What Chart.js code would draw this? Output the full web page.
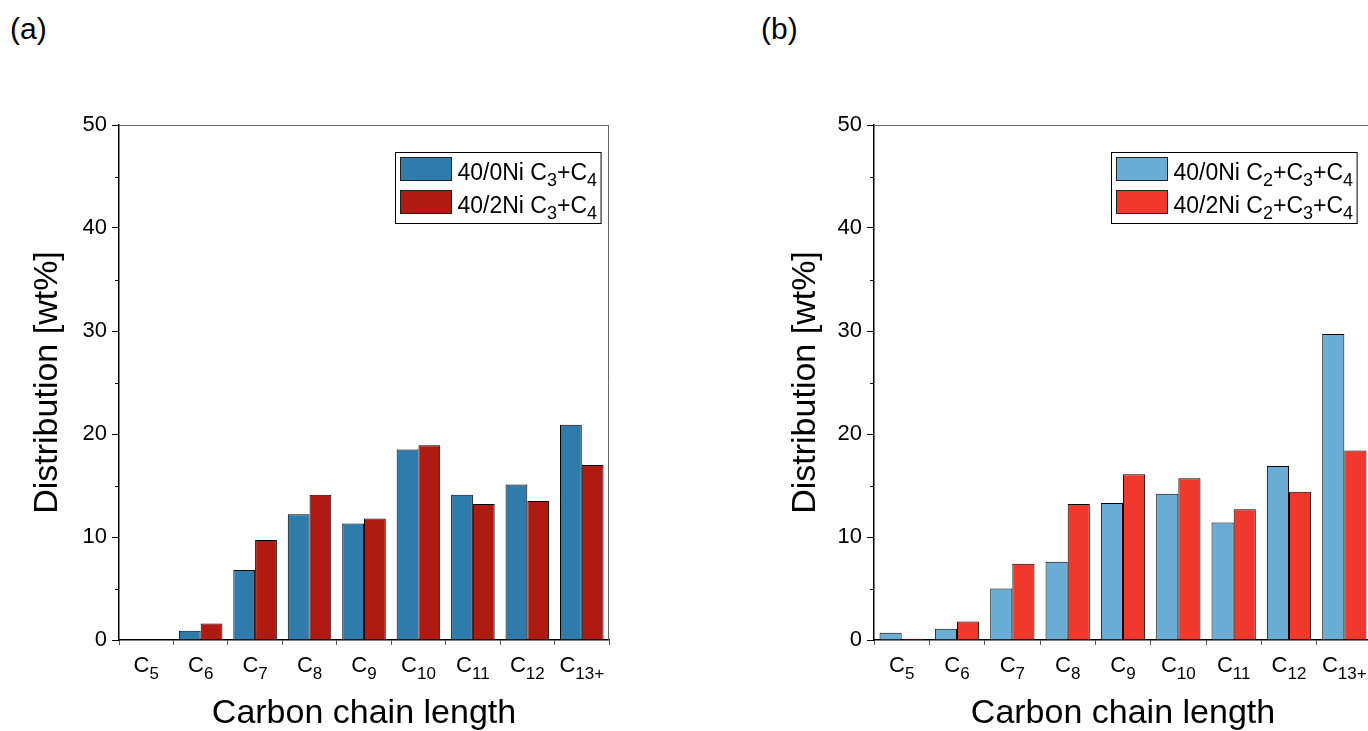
<!DOCTYPE html>
<html>
<head>
<meta charset="utf-8">
<script src="https://cdn.jsdelivr.net/npm/chart.js@4.4.0/dist/chart.umd.min.js"></script>
<style>
  html, body { margin: 0; padding: 0; background: #fff; overflow: hidden; width: 1368px; height: 731px; }
  .panel { position: absolute; top: 0; height: 731px; }
  .tag { position: absolute; top: 13px; font: 30px 'Liberation Sans', Arial, sans-serif; color: #000; line-height: 32px; }
</style>
</head>
<body>
<div class="tag" style="left:10px">(a)</div>
<div class="tag" style="left:761px">(b)</div>
<div class="panel" style="left:0;width:684px"><canvas id="chartA"></canvas></div>
<div class="panel" style="left:684px;width:700px"><canvas id="chartB"></canvas></div>
<script>
// categories, _{...} marks a subscript
const categories = ['C_{5}', 'C_{6}', 'C_{7}', 'C_{8}', 'C_{9}', 'C_{10}', 'C_{11}', 'C_{12}', 'C_{13+}'];

// panel (a)
const namesA = ['40/0Ni C_{3}+C_{4}', '40/2Ni C_{3}+C_{4}'];
const a0Ni = [0.05, 0.9, 6.8, 12.2, 11.3, 18.5, 14.1, 15.1, 20.9];
const a2Ni = [0, 1.6, 9.7, 14.1, 11.8, 18.9, 13.2, 13.5, 17.0];

// panel (b)
const namesB = ['40/0Ni C_{2}+C_{3}+C_{4}', '40/2Ni C_{2}+C_{3}+C_{4}'];
const b0Ni = [0.7, 1.1, 5.0, 7.6, 13.3, 14.2, 11.4, 16.9, 29.7];
const b2Ni = [0.13, 1.8, 7.4, 13.2, 16.1, 15.7, 12.7, 14.4, 18.4];

const yMax = 50;
const yStep = 10;

const FONT = "'Liberation Sans', Arial, sans-serif";

function splitRich(s) {
  const out = [];
  const re = /_\{([^}]*)\}/g;
  let last = 0, m;
  while ((m = re.exec(s))) {
    if (m.index > last) out.push({ t: s.slice(last, m.index), sub: false });
    out.push({ t: m[1], sub: true });
    last = re.lastIndex;
  }
  if (last < s.length) out.push({ t: s.slice(last), sub: false });
  return out;
}

// draws text with subscripts, y is the baseline
function drawRich(ctx, s, x, y, size, align) {
  const ps = splitRich(s);
  const subSize = Math.round(size * 0.77);
  let w = 0;
  ps.forEach(p => {
    ctx.font = (p.sub ? subSize : size) + 'px ' + FONT;
    p.w = ctx.measureText(p.t).width;
    w += p.w;
  });
  let cx = align === 'center' ? x - w / 2 : x;
  ctx.textAlign = 'left';
  ctx.textBaseline = 'alphabetic';
  ctx.fillStyle = '#000';
  ps.forEach(p => {
    ctx.font = (p.sub ? subSize : size) + 'px ' + FONT;
    ctx.fillText(p.t, cx, y + (p.sub ? size * 0.3 : 0));
    cx += p.w;
  });
  return w;
}

function richWidth(ctx, s, size) {
  const subSize = Math.round(size * 0.77);
  let w = 0;
  splitRich(s).forEach(p => {
    ctx.font = (p.sub ? subSize : size) + 'px ' + FONT;
    w += ctx.measureText(p.t).width;
  });
  return w;
}

const decor = {
  id: 'decor',
  afterDraw(chart, args, opts) {
    const ctx = chart.ctx;
    const area = chart.chartArea;
    const x = chart.scales.x;
    const y = chart.scales.y;
    ctx.save();

    // frame on top and right
    ctx.strokeStyle = '#666';
    ctx.lineWidth = 1;
    ctx.beginPath();
    ctx.moveTo(area.left, area.top + 0.5);
    ctx.lineTo(area.right, area.top + 0.5);
    ctx.moveTo(area.right - 0.5, area.top);
    ctx.lineTo(area.right - 0.5, area.bottom);
    ctx.stroke();

    // minor ticks
    ctx.strokeStyle = '#000';
    ctx.beginPath();
    for (let v = yStep / 2; v < yMax; v += yStep) {
      const py = Math.round(y.getPixelForValue(v)) + 0.5;
      ctx.moveTo(area.left - 4, py);
      ctx.lineTo(area.left, py);
    }
    ctx.stroke();

    // category labels
    chart.data.labels.forEach((lab, i) => {
      drawRich(ctx, lab, x.getPixelForValue(i), area.bottom + 32, 22, 'center');
    });

    // legend
    const size = 23;
    const tw = Math.max(...opts.names.map(n => richWidth(ctx, n, size)));
    const bw = 5 + 51 + 6 + tw + 4;
    const bh = 71;
    const bx = Math.round(area.right - opts.legendRight - bw) + 0.5;
    const by = Math.round(area.top + 27) + 0.5;
    ctx.fillStyle = '#fff';
    ctx.fillRect(bx, by, bw, bh);
    ctx.strokeStyle = '#000';
    ctx.strokeRect(bx, by, bw, bh);
    chart.data.datasets.forEach((ds, i) => {
      const sy = by + 5 + i * 33;
      ctx.fillStyle = ds.backgroundColor;
      ctx.fillRect(bx + 5, sy, 51, 23);
      ctx.strokeStyle = '#222';
      ctx.strokeRect(bx + 5, sy, 51, 23);
      drawRich(ctx, opts.names[i], bx + 5 + 51 + 6, sy + 22, size, 'left');
    });
    ctx.restore();
  }
};

function makeChart(id, v0, v1, names, colors, yWidth, padRight, titleOff, legendRight) {
  return new Chart(document.getElementById(id), {
    type: 'bar',
    data: {
      labels: categories,
      datasets: [
        { label: names[0], data: v0, backgroundColor: colors[0], borderColor: '#000', borderWidth: 1 },
        { label: names[1], data: v1, backgroundColor: colors[1], borderColor: '#000', borderWidth: 1 }
      ]
    },
    options: {
      responsive: true,
      maintainAspectRatio: false,
      animation: false,
      layout: { padding: { left: 0, right: padRight, top: 125, bottom: 0 } },
      datasets: { bar: { categoryPercentage: 0.8, barPercentage: 1.0 } },
      plugins: {
        legend: { display: false },
        tooltip: { enabled: false },
        decor: { names: names, legendRight: legendRight }
      },
      scales: {
        x: {
          afterFit: s => { s.height = 91; },
          grid: { offset: true, drawOnChartArea: false, tickLength: 5, color: '#555' },
          border: { color: '#000', width: 1.5 },
          ticks: { display: false },
          title: {
            display: true,
            text: 'Carbon chain length',
            color: '#000',
            font: { family: FONT, size: 34, lineHeight: 1 },
            padding: { top: 0, bottom: 0 }
          }
        },
        y: {
          min: 0,
          max: yMax,
          afterFit: s => { s.width = yWidth; },
          grid: { drawOnChartArea: false, tickLength: 7, color: '#000' },
          border: { color: '#000', width: 1.5 },
          ticks: { stepSize: yStep, color: '#000', padding: 5, font: { family: FONT, size: 22 } },
          title: {
            display: true,
            text: 'Distribution [wt%]',
            color: '#000',
            font: { family: FONT, size: 34, lineHeight: 1 },
            padding: { top: titleOff, bottom: 0 }
          }
        }
      }
    },
    plugins: [decor]
  });
}

makeChart('chartA', a0Ni, a2Ni, namesA, ['#2f7bab', '#af1b12'], 119, 75, 31, 8);
makeChart('chartB', b0Ni, b2Ni, namesB, ['#6aaed6', '#ee392c'], 190, 12, 105, 15);
</script>
</body>
</html>
